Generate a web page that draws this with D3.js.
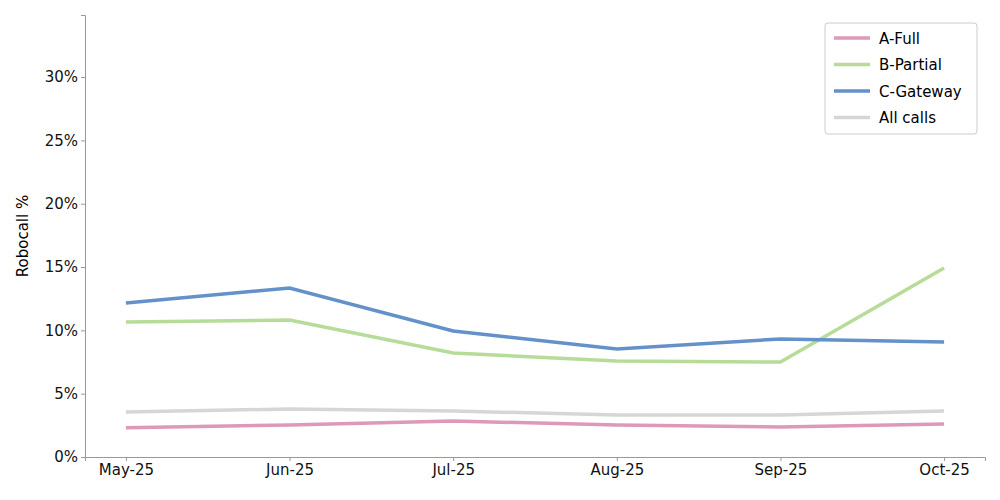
<!DOCTYPE html>
<html><head><meta charset="utf-8">
<script src="https://cdn.jsdelivr.net/npm/d3@7"></script>
<style>body{margin:0;background:#fff}svg{font-family:"DejaVu Sans",sans-serif}</style>
</head><body><svg id="chart" width="1000" height="500"></svg>
<script>
var months = ['May-25', 'Jun-25', 'Jul-25', 'Aug-25', 'Sep-25', 'Oct-25'];
var aFull = [2.3, 2.53, 2.84, 2.53, 2.37, 2.6];
var bPartial = [10.66, 10.82, 8.21, 7.58, 7.5, 14.92];
var cGateway = [12.16, 13.34, 9.95, 8.53, 9.32, 9.08];
var allCalls = [3.55, 3.79, 3.63, 3.32, 3.32, 3.63];
var yTicks = [0, 5, 10, 15, 20, 25, 30];

var series = [
    {name: 'A-Full', values: aFull, color: '#de98b9'},
    {name: 'B-Partial', values: bPartial, color: '#b6dc98'},
    {name: 'C-Gateway', values: cGateway, color: '#6491c9'},
    {name: 'All calls', values: allCalls, color: '#d6d6d6'}
];

var svg = d3.select('#chart');
var x = d3.scaleLinear().domain([-0.25, 5.25]).range([85, 985]);
var y = d3.scaleLinear().domain([0, 34.9]).range([457, 15]);

// axes
svg.append('g').attr('transform', 'translate(0,457)')
    .call(d3.axisBottom(x).tickValues(d3.range(6)).tickFormat(function (i) { return months[i]; }).tickSizeOuter(0).tickSize(4))
    .call(styleAxis);
svg.append('g').attr('transform', 'translate(85,0)')
    .call(d3.axisLeft(y).tickValues(yTicks).tickFormat(function (d) { return d + '%'; }).tickSizeOuter(0).tickSize(4))
    .call(styleAxis);

function styleAxis(g) {
    g.selectAll('path,line').attr('stroke', '#999');
    g.selectAll('text').attr('font-size', 15).attr('fill', '#111').attr('font-family', 'DejaVu Sans');
}

svg.append('text').attr('transform', 'translate(28,236) rotate(-90)')
    .attr('text-anchor', 'middle').attr('font-size', 15).text('Robocall %');

var line = d3.line().x(function (d, i) { return x(i); }).y(function (d) { return y(d); });

// draw order: all calls behind
[3, 0, 1, 2].forEach(function (k) {
    svg.append('path').datum(series[k].values)
        .attr('d', line).attr('fill', 'none')
        .attr('stroke', series[k].color).attr('stroke-width', 3.5);
});

// legend
var lg = svg.append('g').attr('transform', 'translate(825,23)');
lg.append('rect').attr('width', 152).attr('height', 111).attr('rx', 3)
    .attr('fill', '#fff').attr('fill-opacity', 0.85).attr('stroke', '#ccc');
series.forEach(function (s, i) {
    var yy = 15 + i * 26.5;
    lg.append('line').attr('x1', 9).attr('x2', 45).attr('y1', yy).attr('y2', yy)
        .attr('stroke', s.color).attr('stroke-width', 3.5);
    lg.append('text').attr('x', 54).attr('y', yy + 5.5).attr('font-size', 15).text(s.name);
});
</script></body></html>
